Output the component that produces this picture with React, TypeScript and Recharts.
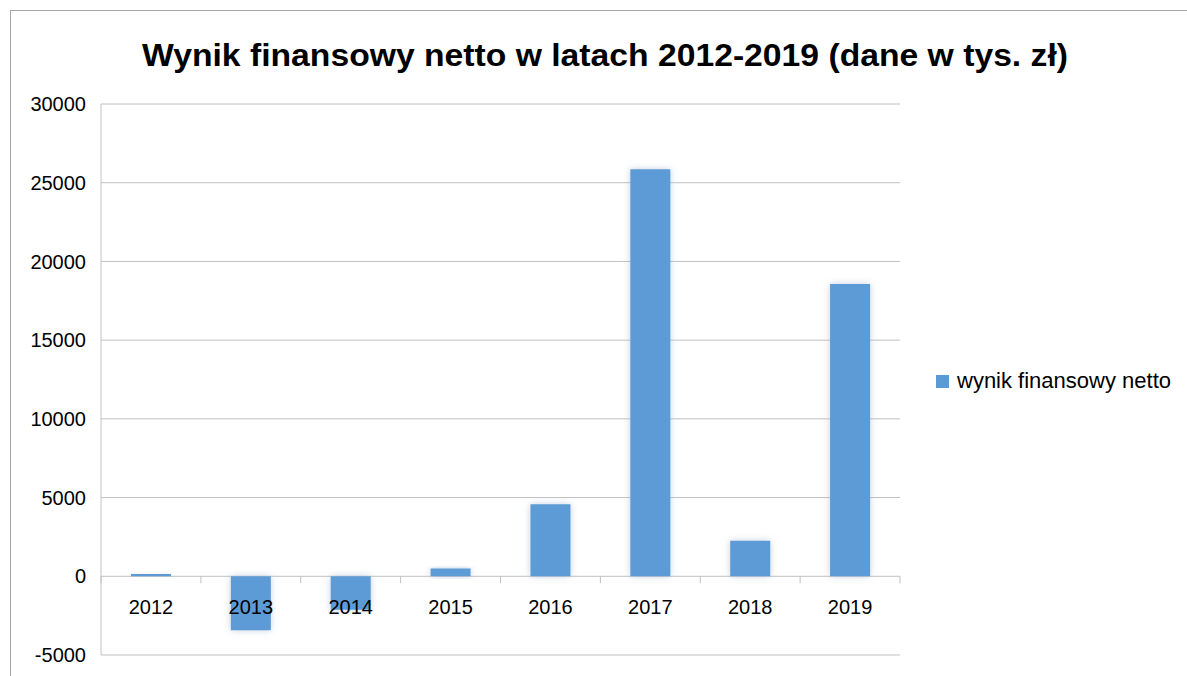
import { BarChart, Bar, XAxis, YAxis, CartesianGrid } from "recharts";

const years = ["2012", "2013", "2014", "2015", "2016", "2017", "2018", "2019"];
const netResult = [150, -3430, -2120, 490, 4580, 25850, 2250, 18570];
const yTicks = [-5000, 0, 5000, 10000, 15000, 20000, 25000, 30000];
const seriesName = "wynik finansowy netto";

const data = years.map((year, i) => ({ year, value: netResult[i] }));

const W = 1187;
const H = 676;
const PLOT_TOP = 104;
const PLOT_BOTTOM = 655;
const PLOT_LEFT = 101;
const PLOT_RIGHT = 900;
const Y_MIN = -5000;
const Y_MAX = 30000;
const FONT = "'Liberation Sans', Arial, sans-serif";
const GRID = "#c0c0c0";
const BAR = "#5b9bd5";

// where the zero line sits, relative to the bottom edge of the plot
const zeroOffset = ((0 - Y_MIN) / (Y_MAX - Y_MIN)) * (PLOT_BOTTOM - PLOT_TOP);
const band = (PLOT_RIGHT - PLOT_LEFT) / years.length;

function YearTick(props: any) {
  const { x, y, index } = props;
  const axisY = y - 8; // tick text y includes tickSize + tickMargin
  const zeroY = axisY - zeroOffset;
  return (
    <g>
      <line x1={x - band / 2} x2={x - band / 2} y1={zeroY} y2={zeroY + 7} stroke={GRID} />
      {index === years.length - 1 && (
        <line x1={x + band / 2} x2={x + band / 2} y1={zeroY} y2={zeroY + 7} stroke={GRID} />
      )}
      <text x={x} y={zeroY + 38} textAnchor="middle" fontSize={20} fontFamily={FONT} fill="#000">
        {props.payload.value}
      </text>
    </g>
  );
}

export default function App() {
  return (
    <div style={{ position: "absolute", left: 0, top: 0, width: W, height: H, overflow: "hidden", background: "#fff" }}>
      <div
        style={{
          position: "absolute",
          left: 10,
          top: 10,
          width: W + 20,
          height: H + 20,
          border: "1px solid #a6a6a6",
        }}
      />
      <div style={{ position: "absolute", left: 0, top: 0 }}>
        <BarChart
          width={W}
          height={H}
          data={data}
          margin={{ top: PLOT_TOP, right: W - PLOT_RIGHT, bottom: 0, left: PLOT_LEFT - 80 }}
          barCategoryGap="30%"
        >
          <defs>
            <filter id="glow" x="-30%" y="-30%" width="160%" height="160%">
              <feDropShadow dx="0" dy="0" stdDeviation="3.5" floodColor="#9fb2d0" floodOpacity="0.6" />
            </filter>
          </defs>
          <text
            x={605}
            y={66}
            textAnchor="middle"
            fontSize={32}
            fontWeight="bold"
            fontFamily={FONT}
            fill="#000"
            textLength={926}
            lengthAdjust="spacingAndGlyphs"
          >
            Wynik finansowy netto w latach 2012-2019 (dane w tys. zł)
          </text>
          <CartesianGrid vertical={false} stroke={GRID} />
          <XAxis
            dataKey="year"
            height={H - PLOT_BOTTOM}
            axisLine={false}
            tickLine={false}
            tick={<YearTick />}
            interval={0}
          />
          <YAxis
            width={80}
            domain={[Y_MIN, Y_MAX]}
            ticks={yTicks}
            axisLine={{ stroke: GRID }}
            tickLine={false}
            tickMargin={9}
            tick={{ fontSize: 20, fontFamily: FONT, fill: "#000" }}
          />
          <Bar
            dataKey="value"
            name={seriesName}
            fill={BAR}
            filter="url(#glow)"
            isAnimationActive={false}
          />
        </BarChart>
      </div>
      <div
        style={{
          position: "absolute",
          left: 936,
          top: 368,
          display: "flex",
          alignItems: "center",
          fontFamily: FONT,
          fontSize: 22,
          color: "#000",
          whiteSpace: "nowrap",
        }}
      >
        <span style={{ display: "inline-block", width: 13, height: 13, background: BAR, marginRight: 8 }} />
        {seriesName}
      </div>
    </div>
  );
}
